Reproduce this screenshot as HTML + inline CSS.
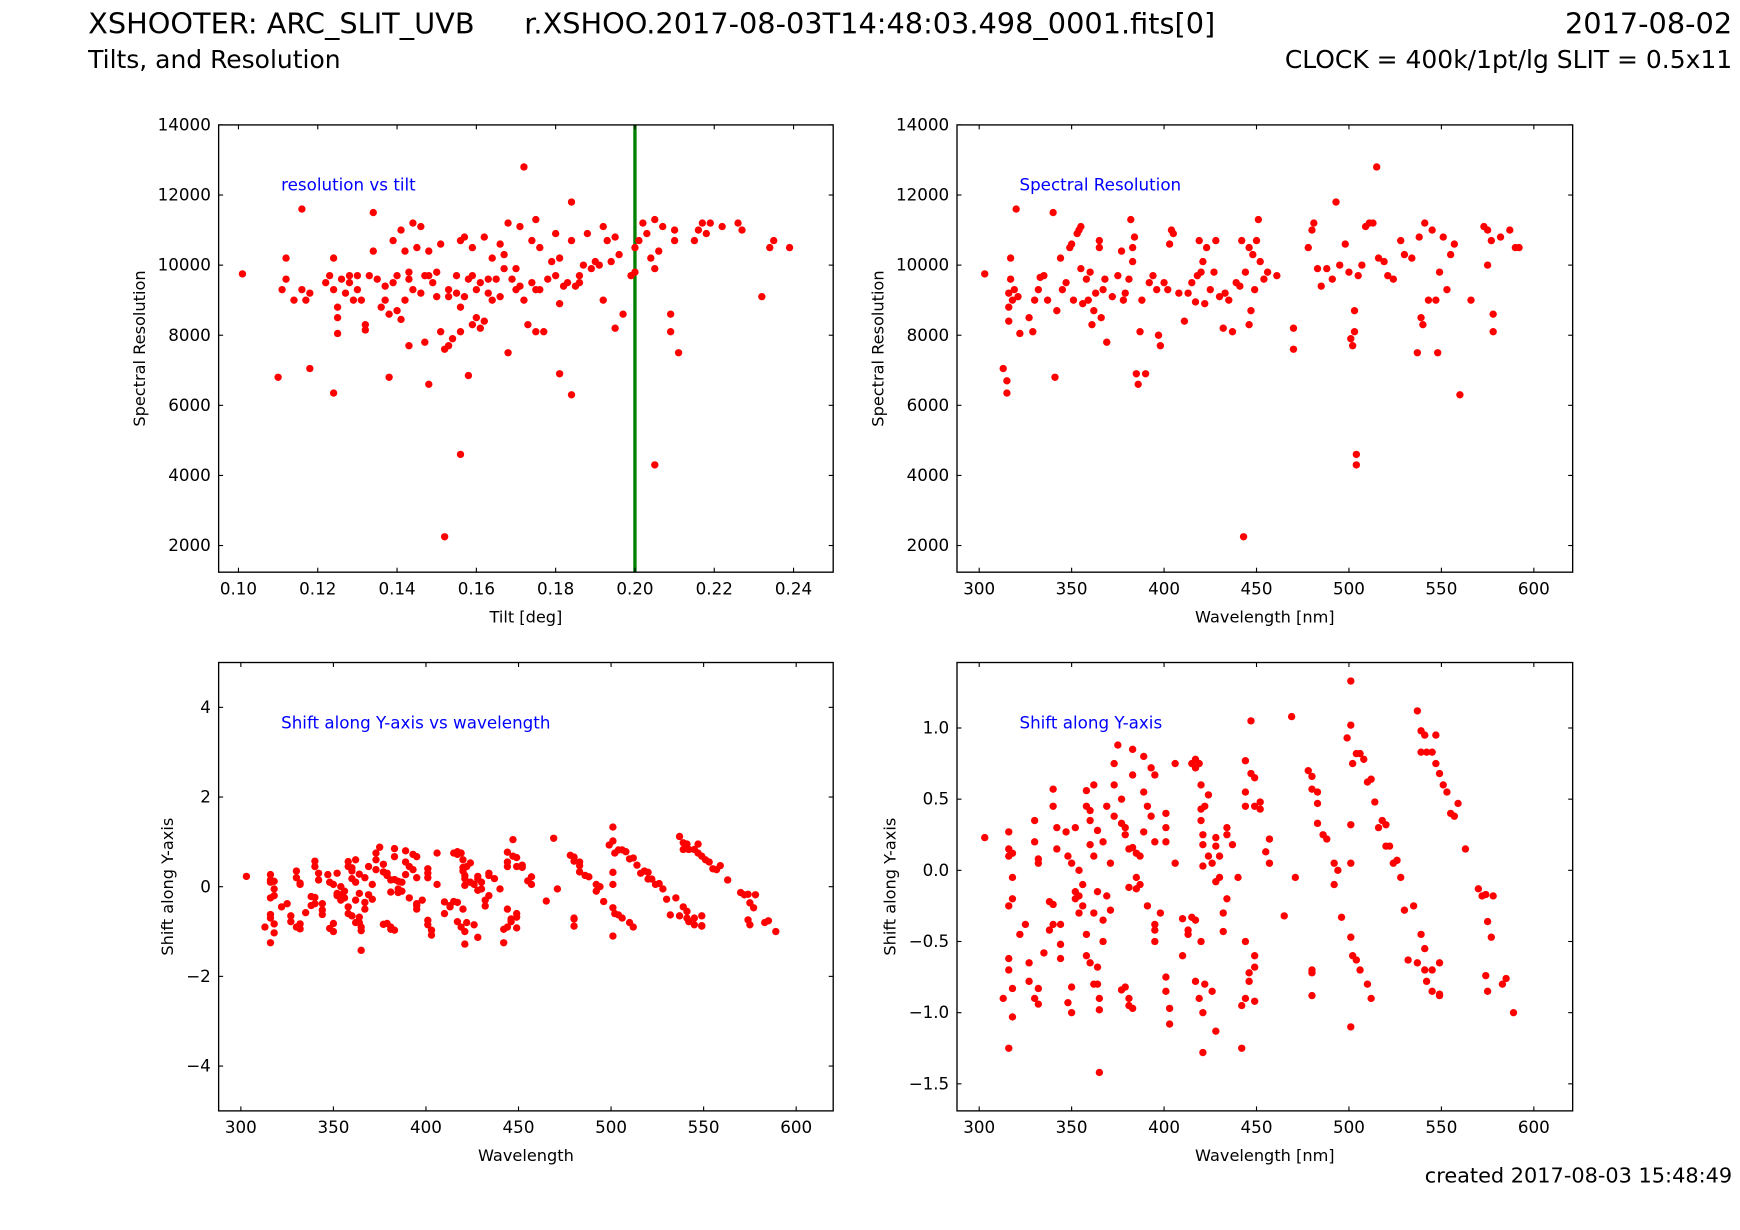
<!DOCTYPE html>
<html><head><meta charset="utf-8"><style>
html,body{margin:0;padding:0;background:#fff;}
svg{display:block;font-family:"DejaVu Sans","Liberation Sans",sans-serif;}
</style></head><body>
<svg id="fig" width="1740" height="1230" viewBox="0 0 1560 1102.8" xmlns="http://www.w3.org/2000/svg">
<rect width="1560" height="1103" fill="#fff"/>
<text x="79" y="30" font-size="25.8">XSHOOTER: ARC_SLIT_UVB</text>
<text x="470" y="30" font-size="25.8">r.XSHOO.2017-08-03T14:48:03.498_0001.fits[0]</text>
<text x="1553" y="30" font-size="25.8" text-anchor="end">2017-08-02</text>
<text x="79" y="61" font-size="22.4">Tilts, and Resolution</text>
<text x="1553" y="61" font-size="22.4" text-anchor="end">CLOCK = 400k/1pt/lg SLIT = 0.5x11</text>
<text x="1553" y="1060" font-size="18.7" text-anchor="end">created 2017-08-03 15:48:49</text>
<g id="plots"></g>
</svg>
<script>
// Top-left: resolution vs tilt
const tiltX=[0.101,0.110,0.111,0.112,0.112,0.114,0.116,0.116,0.117,0.118,0.118,0.122,0.123,0.124,0.124,0.124,0.125,0.125,0.125,0.126,0.127,0.128,0.129,0.130,0.130,0.131,0.132,0.132,0.133,0.134,0.134,0.135,0.136,0.137,0.138,0.138,0.139,0.139,0.140,0.140,0.141,0.141,0.142,0.142,0.143,0.143,0.144,0.144,0.145,0.146,0.146,0.147,0.147,0.148,0.148,0.149,0.150,0.150,0.151,0.151,0.152,0.152,0.153,0.153,0.154,0.155,0.155,0.156,0.156,0.156,0.156,0.157,0.157,0.158,0.159,0.159,0.159,0.160,0.160,0.161,0.161,0.162,0.162,0.163,0.164,0.164,0.165,0.166,0.166,0.167,0.168,0.168,0.169,0.170,0.170,0.171,0.172,0.172,0.173,0.174,0.174,0.175,0.175,0.175,0.176,0.177,0.178,0.179,0.180,0.180,0.181,0.181,0.181,0.183,0.184,0.184,0.184,0.185,0.186,0.187,0.188,0.189,0.190,0.191,0.192,0.192,0.193,0.194,0.195,0.195,0.196,0.197,0.199,0.200,0.200,0.201,0.202,0.203,0.204,0.205,0.205,0.205,0.206,0.207,0.209,0.209,0.210,0.210,0.211,0.215,0.216,0.217,0.218,0.219,0.222,0.226,0.227,0.232,0.234,0.235,0.239,0.128,0.137,0.143,0.148,0.153,0.158,0.163,0.167,0.171,0.176,0.182,0.186];
const tiltRes=[9750,6800,9300,9600,10200,9000,11600,9300,9000,7050,9200,9500,9700,9300,10200,6350,8500,8050,8800,9600,9200,9700,9000,9700,9300,9000,8150,8300,9700,11500,10400,9600,8800,9000,6800,8600,10700,9500,9700,8700,11000,8450,9000,10400,9800,7700,9300,11200,10500,11100,9200,9700,7800,10400,6600,9500,9100,9800,10600,8100,7600,2250,7700,9300,7900,9200,9700,10700,8800,8100,4600,10800,9100,6850,10500,8300,9700,9300,8500,9500,8200,10800,8400,9600,10200,9000,9600,10600,9100,10300,7500,11200,9600,9900,9300,11100,12800,9000,8300,10700,9500,11300,9300,8100,10500,8100,9600,10100,10900,9700,10200,8900,6900,9500,11800,6300,10700,9400,9700,10000,10900,9900,10100,10000,11100,9000,10700,10100,10800,8200,10300,8600,9700,10500,9800,10700,11200,10900,10200,11300,9900,4300,10400,11100,8600,8100,10700,11000,7500,10700,11000,11200,10900,11200,11100,11200,11000,9100,10500,10700,10500,9500,9400,9600,9700,9100,9600,9200,9900,9400,9300,9400,9500];
const tiltTicks=[0.10,0.12,0.14,0.16,0.18,0.20,0.22,0.24];
const resTicks=[2000,4000,6000,8000,10000,12000,14000];
const tiltMarker=[0.200];

// Top-right: resolution vs wavelength
const resWl=[303,313,315,315,316,316,316,317,317,318,319,320,321,322,327,329,330,332,333,335,337,340,341,342,344,345,347,349,350,351,353,354,355,355,356,358,359,360,361,362,363,365,365,366,367,368,369,372,375,377,378,379,381,382,383,383,384,385,386,387,388,390,392,394,396,397,398,400,402,403,404,405,408,411,413,415,417,418,419,420,421,422,423,425,427,428,430,432,433,435,437,439,441,442,443,444,446,446,447,448,449,450,451,452,454,456,461,470,470,478,480,481,483,485,488,491,493,495,498,500,501,502,503,503,504,504,505,507,509,511,513,515,516,519,521,524,528,530,534,537,538,539,540,541,543,545,547,548,549,551,553,555,557,560,566,573,575,575,577,578,578,582,587,590,592];
const resVal=[9750,7050,6350,6700,8400,8800,9200,9600,10200,9000,9300,11600,9100,8050,8500,8100,9000,9300,9650,9700,9000,11500,6800,8700,10200,9300,9500,10500,10600,9000,10900,11000,11100,9900,8900,9600,9000,9800,8300,8700,9200,10500,10700,8500,9300,9600,7800,9100,9700,10400,9000,9200,9600,11300,10500,10100,10800,6900,6600,8100,9000,6900,9500,9700,9300,8000,7700,9500,9300,10600,11000,10900,9200,8400,9200,9500,8950,9700,10700,9800,10100,8900,10500,9300,9800,10700,9100,8200,9200,9000,8100,9500,9400,10700,2250,9800,10500,8300,8700,10300,9300,10700,11300,10100,9600,9800,9700,8200,7600,10500,11000,11200,9900,9400,9900,9600,11800,10000,10600,9800,7900,7700,8100,8700,4600,4300,9700,10000,11100,11200,11200,12800,10200,10100,9700,9600,10700,10300,10200,7500,10800,8500,8300,11200,9000,11000,9000,7500,9800,10800,9300,10300,10600,6300,9000,11100,10000,11000,10700,8600,8100,10800,11000,10500,10500];
const wlTicks=[300,350,400,450,500,550,600];

// Bottom: shift along Y vs wavelength
const shiftWl=[303,313,316,316,316,316,316,316,316,318,318,318,318,318,322,325,327,327,330,330,330,332,332,332,332,335,338,338,340,340,340,340,342,342,344,344,344,347,348,348,350,350,350,352,352,352,354,354,354,356,356,358,358,358,358,360,360,360,360,362,362,362,362,364,364,364,364,365,365,365,367,367,367,369,369,371,371,373,373,373,375,377,377,377,379,379,379,381,381,381,381,383,383,383,383,385,385,385,387,387,389,389,389,391,391,393,393,395,395,395,395,395,398,401,401,401,401,401,403,403,406,406,410,410,413,413,415,415,417,417,417,417,419,419,420,420,420,420,421,421,421,421,421,422,422,424,424,426,426,428,428,428,428,430,430,432,432,434,434,434,437,440,442,442,444,444,444,444,444,446,446,447,447,449,449,449,449,449,452,452,455,457,457,465,469,471,478,480,480,480,480,480,483,483,483,486,488,492,492,494,496,499,501,501,501,501,501,501,502,502,504,504,506,506,508,510,510,512,512,514,516,518,520,520,522,524,526,528,530,532,535,537,537,539,539,539,541,541,541,542,542,545,545,545,547,547,549,549,549,549,551,553,555,557,559,563,570,572,574,574,575,575,577,578,583,585,589];
const shiftVal=[0.23,-0.9,-1.25,-0.62,-0.7,0.27,0.15,0.1,-0.25,-0.83,-1.03,-0.2,-0.05,0.12,-0.45,-0.38,-0.65,-0.78,0.35,0.2,-0.9,0.08,0.05,-0.83,-0.94,-0.58,-0.22,-0.42,0.57,0.45,-0.38,-0.24,0.3,0.15,-0.62,-0.38,-0.52,0.27,0.1,-0.93,-1.0,-0.82,0.05,0.3,-0.15,-0.2,0.0,-0.3,-0.18,-0.1,-0.25,0.56,0.45,-0.45,-0.6,0.42,0.35,0.18,-0.65,0.6,0.1,-0.3,-0.8,0.28,-0.15,-0.68,-0.8,-1.42,-0.98,-0.9,0.2,-0.5,-0.35,0.45,-0.18,0.05,-0.28,0.75,0.6,0.38,0.88,0.5,0.33,-0.84,0.3,0.25,-0.82,0.15,-0.9,-0.95,-0.12,0.85,0.67,0.16,-0.97,0.12,-0.05,-0.13,-0.1,0.1,0.8,0.55,0.27,0.45,-0.25,0.72,0.38,0.67,0.2,-0.42,-0.5,-0.38,-0.3,0.4,0.3,0.2,-0.75,-0.85,-1.08,-0.97,0.75,0.05,-0.34,-0.6,-0.42,-0.45,0.75,-0.33,0.78,0.72,-0.35,-0.78,0.75,-0.9,0.6,0.43,0.35,-0.5,0.25,0.18,-1.0,-1.28,0.03,0.45,-0.8,0.53,0.1,0.05,-0.85,0.23,0.17,-0.08,-1.13,0.1,-0.05,-0.3,-0.43,0.3,0.25,-0.2,0.18,-0.05,-1.25,-0.95,0.77,0.55,0.45,-0.9,-0.5,-0.72,-0.78,1.05,0.68,0.65,0.45,-0.68,-0.92,-0.6,0.48,0.43,0.13,0.22,0.05,-0.32,1.08,-0.05,0.7,0.66,0.57,-0.72,-0.88,-0.7,0.55,0.47,0.33,0.25,0.22,0.05,-0.1,0.0,-0.33,0.93,1.33,1.02,0.05,0.32,-1.1,-0.47,0.75,-0.6,0.82,-0.63,0.82,-0.7,0.78,0.62,-0.8,0.64,-0.9,0.48,0.3,0.35,0.32,0.17,0.17,0.05,0.07,-0.05,-0.28,-0.63,-0.25,1.12,-0.65,0.98,0.83,-0.45,0.95,-0.55,-0.7,-0.78,0.83,0.83,-0.7,-0.85,0.95,0.75,0.68,-0.65,-0.87,-0.88,0.6,0.55,0.4,0.38,0.47,0.15,-0.13,-0.18,-0.17,-0.74,-0.36,-0.85,-0.47,-0.18,-0.8,-0.76,-1.0];
const shiftTicksWide=[-4,-2,0,2,4];
const shiftTicksFine=[-1.5,-1.0,-0.5,0.0,0.5,1.0];

const NS='http://www.w3.org/2000/svg';
const root=document.getElementById('plots');
function mk(tag,attrs,parent){const e=document.createElementNS(NS,tag);for(const k in attrs)e.setAttribute(k,attrs[k]);(parent||root).appendChild(e);return e;}
function fmt(v,dec){return (v<0?'\u2212':'')+Math.abs(v).toFixed(dec);}

function panel(o){
  const g=mk('g',{});
  
  
  const sx=v=>o.x0+(v-o.xmin)/(o.xmax-o.xmin)*(o.x1-o.x0);
  const sy=v=>o.y1-(v-o.ymin)/(o.ymax-o.ymin)*(o.y1-o.y0);
  const cid='clip-'+o.name;
  const cp=mk('clipPath',{id:cid},g);
  mk('rect',{x:o.x0,y:o.y0,width:o.x1-o.x0,height:o.y1-o.y0},cp);
  const pts=mk('g',{'clip-path':'url(#'+cid+')'},g);
  
  
  if(o.vline){o.vline.forEach(v=>{
    const l=mk('line',{x1:sx(v),x2:sx(v),y1:o.y0,y2:o.y1,stroke:'#008000','stroke-width':3},pts);
    
    
  });}
  for(let i=0;i<o.xs.length;i++){
    const c=mk('circle',{cx:sx(o.xs[i]),cy:sy(o.ys[i]),r:3.3,fill:'#ff0000'},pts);
    
    
  }
  const fr=mk('rect',{x:o.x0,y:o.y0,width:o.x1-o.x0,height:o.y1-o.y0,fill:'none',stroke:'#000','stroke-width':1.2},g);
  
  
  o.xt.forEach(v=>{const x=sx(v);
    mk('line',{x1:x,x2:x,y1:o.y1,y2:o.y1-4,stroke:'#000'},g);
    mk('line',{x1:x,x2:x,y1:o.y0,y2:o.y0+4,stroke:'#000'},g);
    const t=mk('text',{x:x,y:o.y1+20,'font-size':15,'text-anchor':'middle'},g);
    
    
    t.textContent=fmt(v,o.xdec);
  });
  o.yt.forEach(v=>{const y=sy(v);
    mk('line',{x1:o.x0,x2:o.x0+4,y1:y,y2:y,stroke:'#000'},g);
    mk('line',{x1:o.x1,x2:o.x1-4,y1:y,y2:y,stroke:'#000'},g);
    const t=mk('text',{x:o.x0-7,y:y+5,'font-size':15,'text-anchor':'end'},g);
    
    
    t.textContent=fmt(v,o.ydec);
  });
  const xl=mk('text',{x:(o.x0+o.x1)/2,y:o.y1+45,'font-size':14.5,'text-anchor':'middle'},g);
  
  
  xl.textContent=o.xlabel;
  const yx=o.ylx, yy=(o.y0+o.y1)/2;
  const yl=mk('text',{x:yx,y:yy,'font-size':14.5,'text-anchor':'middle',transform:'rotate(-90 '+yx+' '+yy+')'},g);
  
  
  yl.textContent=o.ylabel;
  const an=mk('text',{x:o.x0+56,y:o.y0+59,'font-size':15,fill:'#0000ff'},g);
  
  
  an.textContent=o.note;
}

panel({name:'resolution-vs-tilt-plot',x0:196,x1:747,y0:112,y1:513,xmin:0.095,xmax:0.25,ymin:1240,ymax:14000,
  xs:tiltX,ys:tiltRes,xt:tiltTicks,yt:resTicks,xdec:2,ydec:0,xlabel:'Tilt [deg]',ylabel:'Spectral Resolution',ylx:130,note:'resolution vs tilt',vline:tiltMarker});
panel({name:'resolution-vs-wavelength-plot',x0:858,x1:1410,y0:112,y1:513,xmin:288,xmax:621,ymin:1240,ymax:14000,
  xs:resWl,ys:resVal,xt:wlTicks,yt:resTicks,xdec:0,ydec:0,xlabel:'Wavelength [nm]',ylabel:'Spectral Resolution',ylx:792,note:'Spectral Resolution'});
panel({name:'shift-vs-wavelength-wide-plot',x0:196,x1:747,y0:594,y1:996,xmin:288,xmax:620,ymin:-5,ymax:5,
  xs:shiftWl,ys:shiftVal,xt:wlTicks,yt:shiftTicksWide,xdec:0,ydec:0,xlabel:'Wavelength',ylabel:'Shift along Y-axis',ylx:155,note:'Shift along Y-axis vs wavelength'});
panel({name:'shift-vs-wavelength-plot',x0:858,x1:1410,y0:594,y1:996,xmin:288,xmax:621,ymin:-1.69,ymax:1.46,
  xs:shiftWl,ys:shiftVal,xt:wlTicks,yt:shiftTicksFine,xdec:0,ydec:1,xlabel:'Wavelength [nm]',ylabel:'Shift along Y-axis',ylx:803,note:'Shift along Y-axis'});
</script>
</body></html>
